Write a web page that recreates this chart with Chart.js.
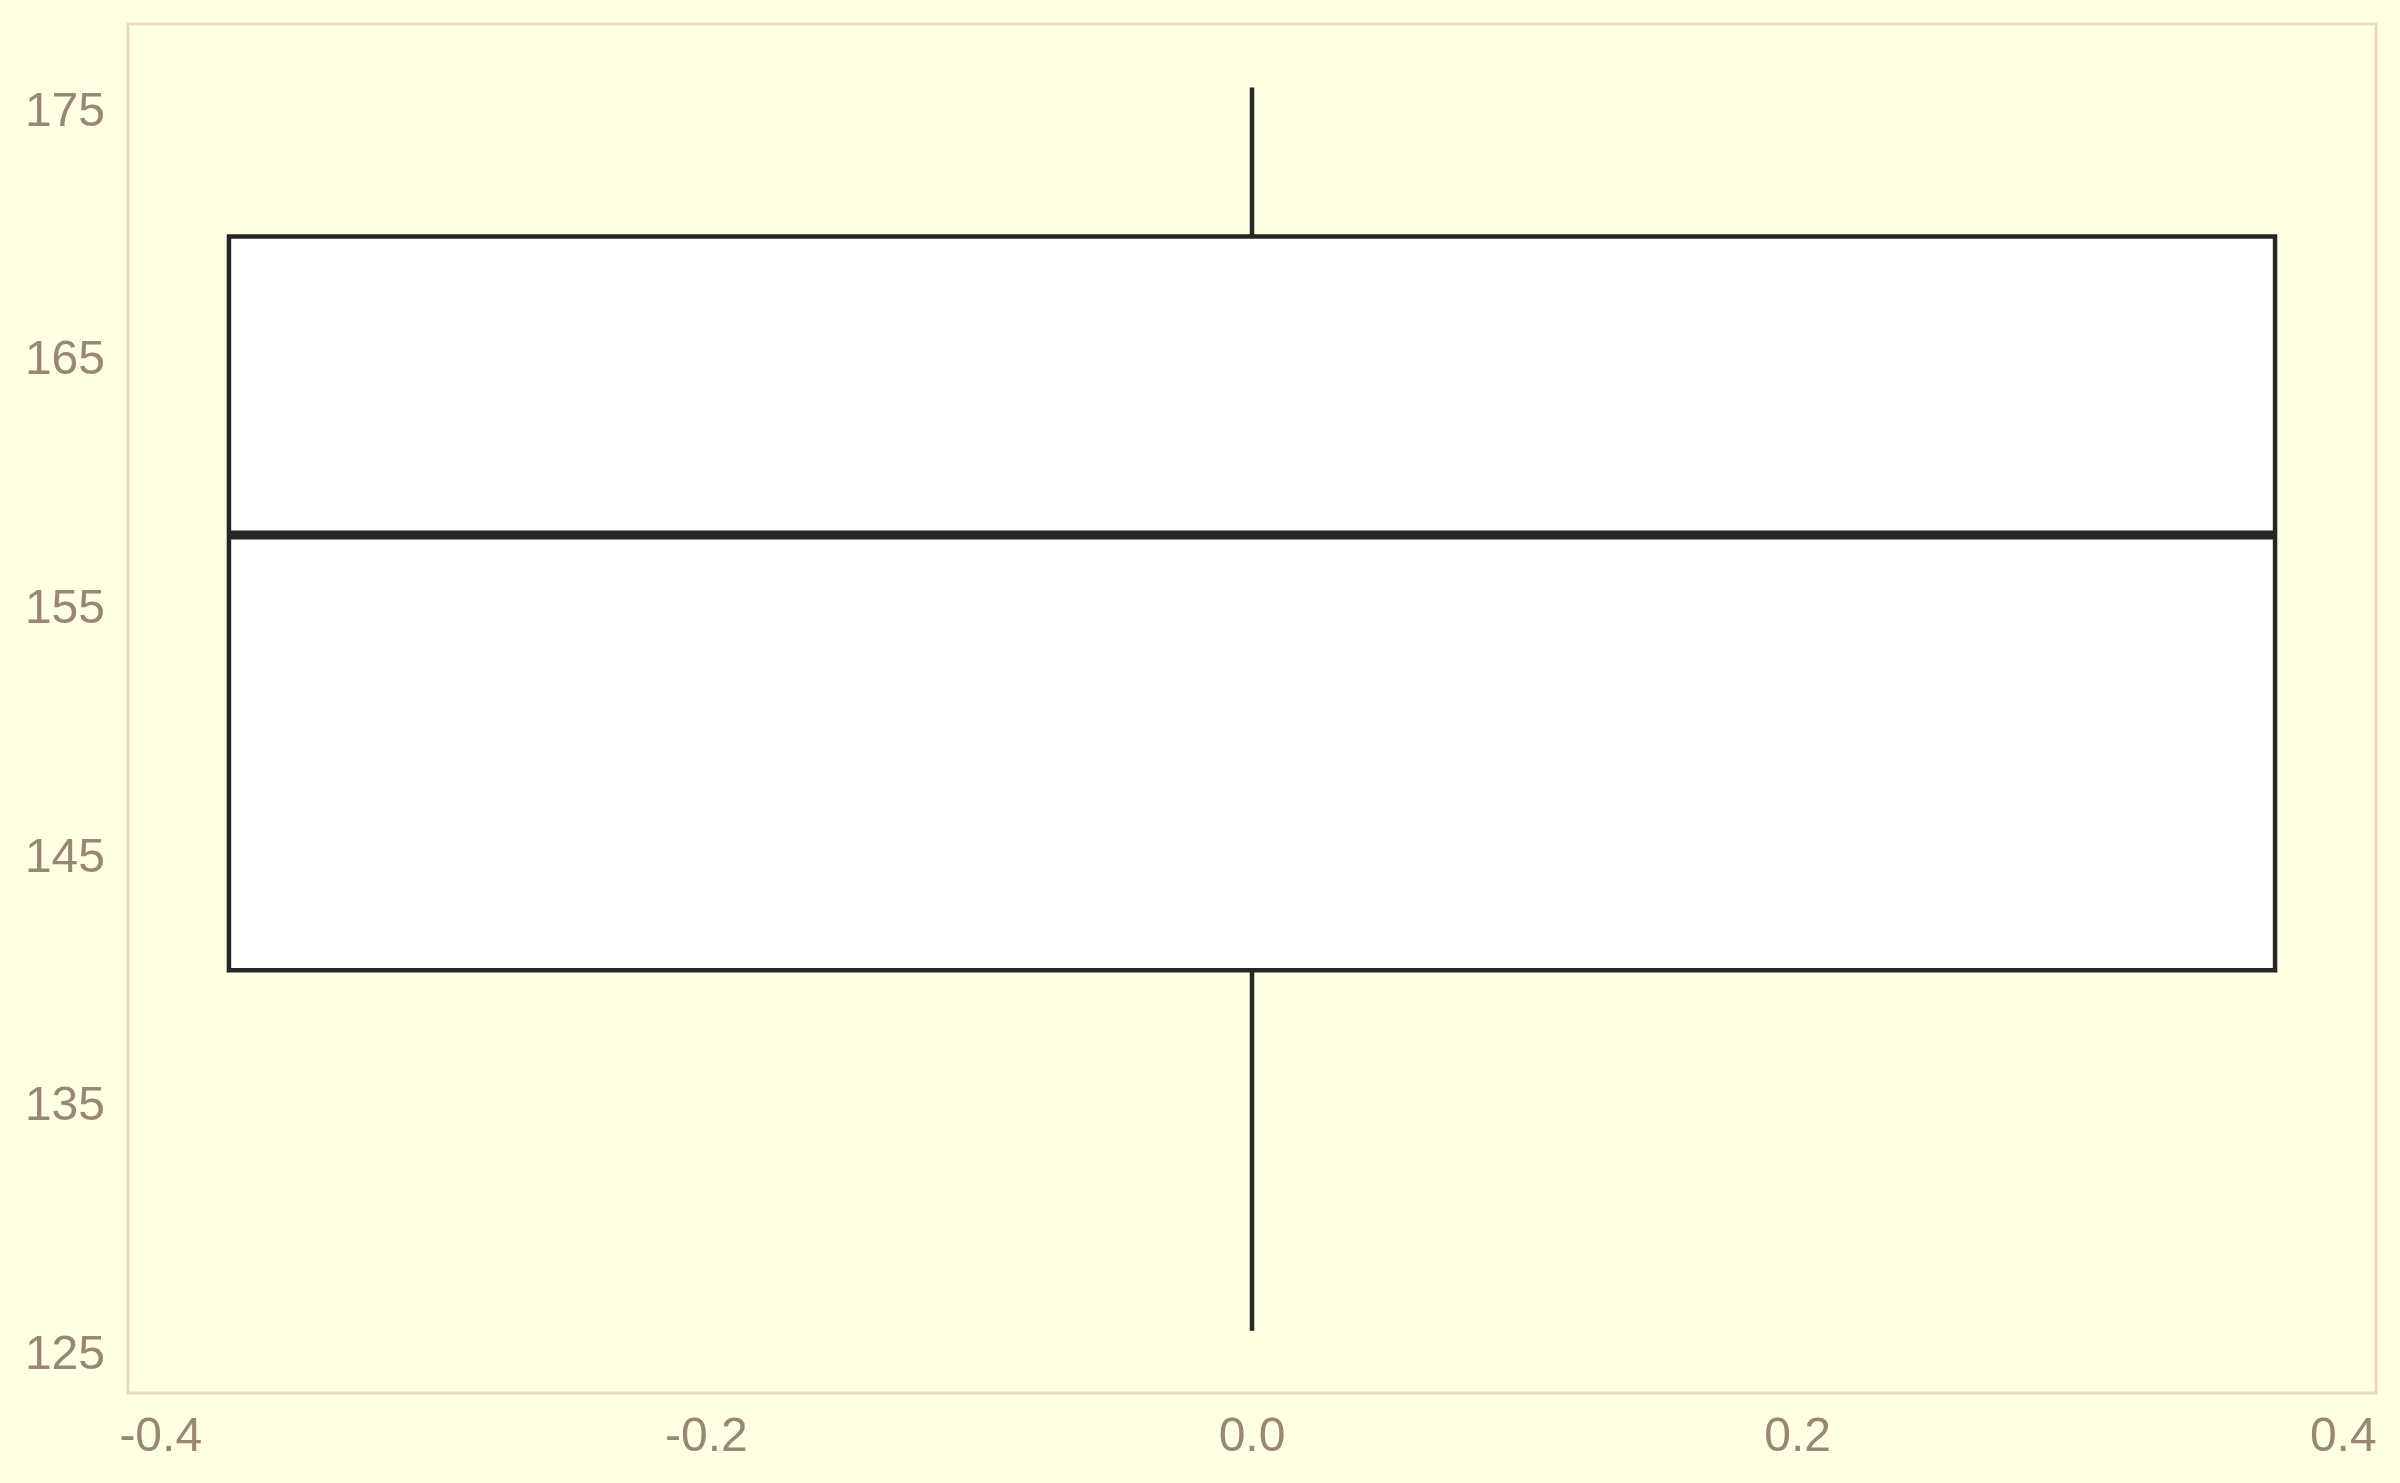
<!DOCTYPE html>
<html>
<head>
<meta charset="utf-8">
<script src="https://cdn.jsdelivr.net/npm/chart.js@4/dist/chart.umd.min.js"></script>
<style>
  html, body { margin: 0; padding: 0; background: #FFFFE3; }
  #wrap { width: 2400px; height: 1483px; }
</style>
</head>
<body>
<div id="wrap"><canvas id="c" width="2400" height="1483"></canvas></div>
<script>
// ---- data ----
const statNames = ['min', 'q1', 'median', 'q3', 'max'];
const statValues = [126, 140.5, 158, 170, 176];
const xTickValues = [-0.4, -0.2, 0.0, 0.2, 0.4];
const yTickValues = [125, 135, 145, 155, 165, 175];

// ---- helpers ----
const S = {};
statNames.forEach((n, i) => S[n] = statValues[i]);
const boxCenter = 0;
const halfWidth = 0.375;

const ink = '#262626';
const tickColor = '#978774';
const frameColor = '#E9DBBD';
const bg = '#FFFFE3';

const framePlugin = {
  id: 'frame',
  beforeDraw(chart) {
    const ctx = chart.ctx;
    ctx.save();
    ctx.fillStyle = bg;
    ctx.fillRect(0, 0, chart.width, chart.height);
    ctx.restore();
  },
  beforeDatasetsDraw(chart) {
    const a = chart.chartArea, ctx = chart.ctx;
    ctx.save();
    ctx.strokeStyle = frameColor;
    ctx.lineWidth = 3;
    ctx.strokeRect(a.left, a.top, a.right - a.left, a.bottom - a.top);
    ctx.restore();
  }
};

const lineDs = (data, width, order, extra) => Object.assign({
  data, showLine: true, borderColor: ink, borderWidth: width, order,
  pointRadius: 0, pointHoverRadius: 0, fill: false, tension: 0,
  borderCapStyle: 'butt', borderJoinStyle: 'miter'
}, extra || {});

// lower "order" is drawn on top
const datasets = [
  lineDs([{x: boxCenter - halfWidth, y: S.median}, {x: boxCenter + halfWidth, y: S.median}], 9, 0),
  lineDs([
    {x: boxCenter, y: S.q1},
    {x: boxCenter + halfWidth, y: S.q1},
    {x: boxCenter + halfWidth, y: S.q3},
    {x: boxCenter - halfWidth, y: S.q3},
    {x: boxCenter - halfWidth, y: S.q1},
    {x: boxCenter, y: S.q1}
  ], 4.5, 1, {fill: 'shape', backgroundColor: '#FFFFFF'}),
  lineDs([{x: boxCenter, y: S.q3}, {x: boxCenter, y: S.max}], 4.5, 2),
  lineDs([{x: boxCenter, y: S.q1}, {x: boxCenter, y: S.min}], 4.5, 2)
];

const font = {family: "'Liberation Sans', Arial, sans-serif", size: 48};

new Chart(document.getElementById('c'), {
  type: 'scatter',
  data: { datasets },
  plugins: [framePlugin],
  options: {
    responsive: false,
    animation: false,
    events: [],
    layout: { padding: { top: 24, right: 24, left: 0, bottom: 0 } },
    plugins: { legend: { display: false }, tooltip: { enabled: false } },
    scales: {
      x: {
        type: 'linear', min: -0.412, max: 0.412,
        grid: { display: false, drawTicks: false },
        border: { display: false },
        afterBuildTicks: s => { s.ticks = xTickValues.map(v => ({value: v})); },
        afterFit: s => { s.height = 90; s.paddingLeft = 0; s.paddingRight = 0; },
        ticks: {
          color: tickColor, font, padding: 16, maxRotation: 0, autoSkip: false,
          callback: v => v.toFixed(1)
        }
      },
      y: {
        type: 'linear', min: 123.5, max: 178.55,
        grid: { display: false, drawTicks: false },
        border: { display: false },
        afterBuildTicks: s => { s.ticks = yTickValues.map(v => ({value: v})); },
        afterFit: s => { s.width = 128; s.paddingTop = 0; s.paddingBottom = 0; },
        ticks: { color: tickColor, font, padding: 23, autoSkip: false, callback: v => String(v) }
      }
    }
  }
});
</script>
</body>
</html>
